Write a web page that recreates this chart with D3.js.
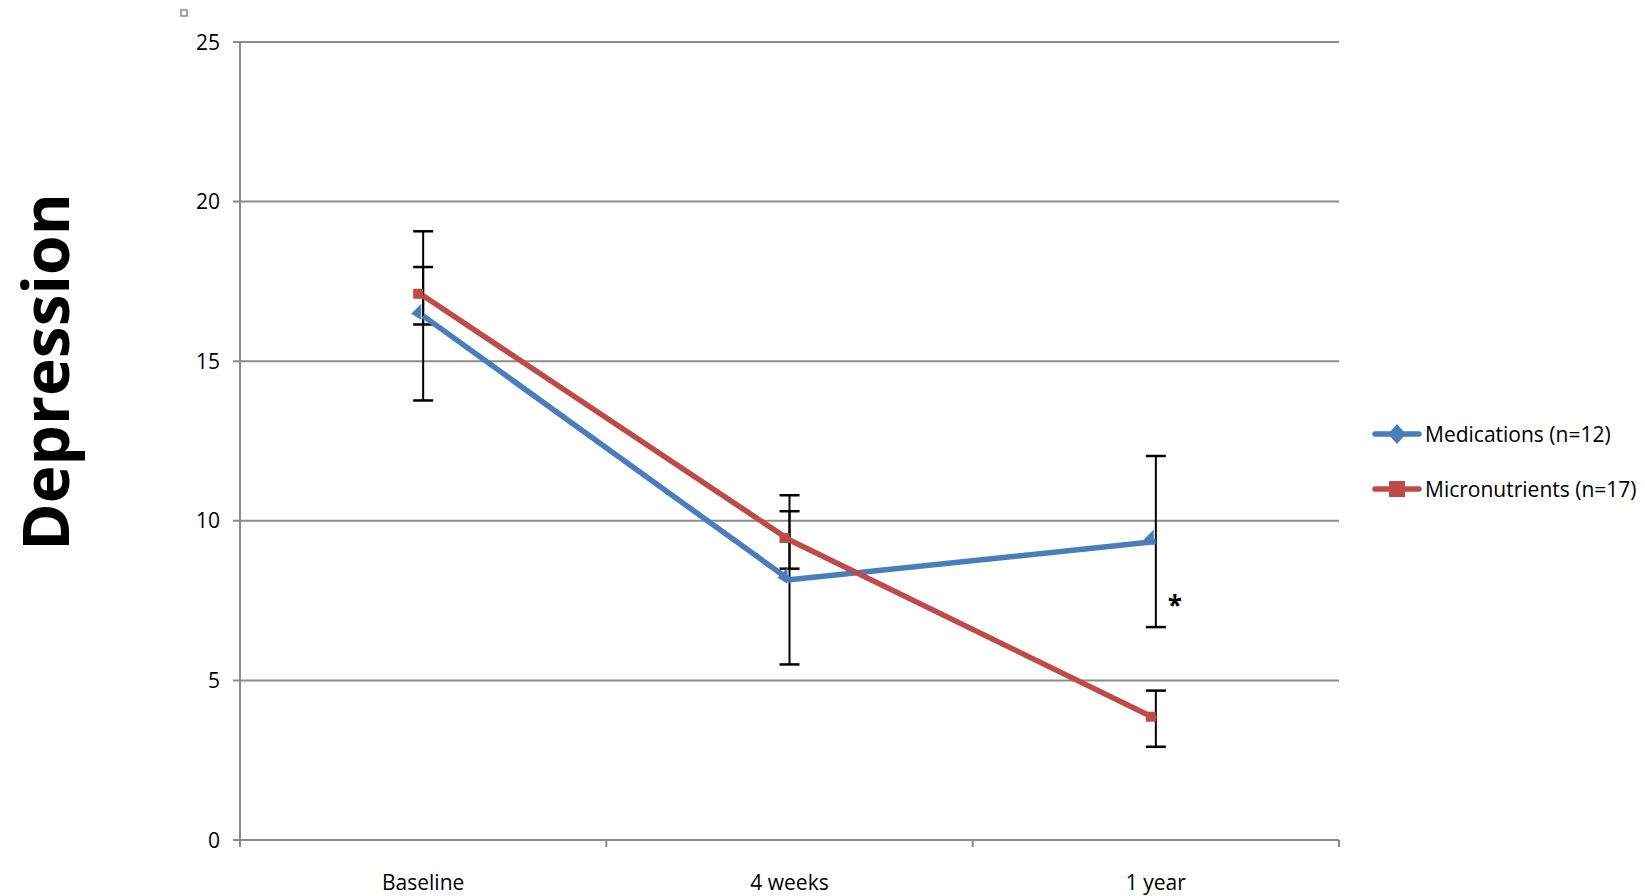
<!DOCTYPE html>
<html>
<head>
<meta charset="utf-8">
<script src="https://cdn.jsdelivr.net/npm/d3@7"></script>
<style>
  body { margin: 0; background: #fff; }
  text { font-family: "Open Sans", sans-serif; }
</style>
</head>
<body>
<svg id="chart" width="1645" height="896"></svg>
<script>
// chart values
var categories = ["Baseline", "4 weeks", "1 year"];
var seriesNames = ["Medications (n=12)", "Micronutrients (n=17)"];
var medications = [16.42, 8.15, 9.35];
var medicationsErr = [2.65, 2.65, 2.68];
var micronutrients = [17.05, 9.4, 3.8];
var micronutrientsErr = [0.9, 0.9, 0.88];
var yTicks = [0, 5, 10, 15, 20, 25];
var starNote = "*";

var colors = ["#4a7ebb", "#be4b48"];

var margin = {top: 42, left: 240, right: 306, bottom: 56};
var width = 1645 - margin.left - margin.right;
var height = 896 - margin.top - margin.bottom;

var svg = d3.select("#chart");
var g = svg.append("g").attr("transform", `translate(${margin.left},${margin.top})`);

var xScale = d3.scaleBand().domain(categories).range([0, width]).padding(0);
var yScale = d3.scaleLinear().domain([0, 25]).range([height, 0]);
var cx = d => xScale(d) + xScale.bandwidth() / 2;

// gridlines
g.selectAll(".grid").data(yTicks).enter().append("line")
  .attr("x1", -7).attr("x2", width)
  .attr("y1", d => yScale(d)).attr("y2", d => yScale(d))
  .attr("stroke", "#8c8c8c").attr("stroke-width", 2);

// y axis line
g.append("line").attr("x1", 0).attr("x2", 0).attr("y1", 0).attr("y2", height + 7)
  .attr("stroke", "#8c8c8c").attr("stroke-width", 2);

// x category ticks
var bounds = categories.map(c => xScale(c)).concat([width]);
g.selectAll(".xt").data(bounds.slice(1)).enter().append("line")
  .attr("x1", d => d).attr("x2", d => d).attr("y1", height).attr("y2", height + 7)
  .attr("stroke", "#8c8c8c").attr("stroke-width", 2);

// y tick labels
g.selectAll(".yl").data(yTicks).enter().append("text")
  .attr("x", -20).attr("y", d => yScale(d)).attr("dy", "0.36em")
  .attr("text-anchor", "end").attr("font-size", 21).attr("fill", "#000")
  .text(d => d);

// x tick labels
g.selectAll(".xl").data(categories).enter().append("text")
  .attr("x", d => cx(d)).attr("y", height + 50)
  .attr("text-anchor", "middle").attr("font-size", 21).attr("fill", "#000")
  .text(d => d);

// axis title
svg.append("text")
  .attr("transform", "translate(69,372) rotate(-90)")
  .attr("text-anchor", "middle").attr("font-size", 64).attr("font-weight", "bold")
  .text("Depression");

// tiny square in the corner
svg.append("rect").attr("x", 181).attr("y", 10).attr("width", 6).attr("height", 6)
  .attr("fill", "none").attr("stroke", "#888").attr("stroke-width", 1.5);

var series = [
  {name: seriesNames[0], values: medications, err: medicationsErr, color: colors[0], marker: "diamond"},
  {name: seriesNames[1], values: micronutrients, err: micronutrientsErr, color: colors[1], marker: "square"}
];

// error bars
series.forEach(function(s) {
  var eb = g.append("g");
  categories.forEach(function(c, i) {
    var x = cx(c), lo = yScale(s.values[i] - s.err[i]), hi = yScale(s.values[i] + s.err[i]);
    eb.append("line").attr("x1", x).attr("x2", x).attr("y1", lo).attr("y2", hi)
      .attr("stroke", "#000").attr("stroke-width", 2);
    [lo, hi].forEach(function(y) {
      eb.append("line").attr("x1", x - 10).attr("x2", x + 10).attr("y1", y).attr("y2", y)
        .attr("stroke", "#000").attr("stroke-width", 2.5);
    });
  });
});

var line = d3.line().x((d, i) => cx(categories[i])).y(d => yScale(d));

series.forEach(function(s) {
  // markers sit just left of the points
  var mk = g.append("g");
  s.values.forEach(function(v, i) {
    var x = cx(categories[i]), y = yScale(v);
    if (s.marker === "square") {
      mk.append("rect").attr("x", x - 10).attr("y", y - 7).attr("width", 10).attr("height", 10)
        .attr("fill", s.color);
    } else {
      mk.append("path").attr("d", `M${x - 12},${y - 2} L${x - 2},${y - 12} L${x - 2},${y + 4} Z`)
        .attr("fill", s.color);
    }
  });
  g.append("path").datum(s.values).attr("d", line)
    .attr("fill", "none").attr("stroke", s.color).attr("stroke-width", 5.5)
    .attr("stroke-linejoin", "round");
});

// significance star
g.append("text")
  .attr("x", cx(categories[2]) + 12).attr("y", yScale(medications[2] - medicationsErr[2] / 2) + 31)
  .attr("font-size", 26).attr("font-weight", "bold").text(starNote);

// legend
var legend = svg.append("g").attr("transform", "translate(1375,434)");
series.forEach(function(s, i) {
  var lg = legend.append("g").attr("transform", `translate(0,${i * 55})`);
  lg.append("line").attr("x1", 0).attr("x2", 44).attr("y1", 0).attr("y2", 0)
    .attr("stroke", s.color).attr("stroke-width", 5.5).attr("stroke-linecap", "round");
  if (s.marker === "square") {
    lg.append("rect").attr("x", 14).attr("y", -8).attr("width", 16).attr("height", 16).attr("fill", s.color);
  } else {
    lg.append("path").attr("d", "M22,-10 L31,0 L22,10 L13,0 Z").attr("fill", s.color);
  }
  lg.append("text").attr("x", 50).attr("y", 0).attr("dy", "0.36em")
    .attr("font-size", 21).attr("fill", "#000").text(s.name);
});
</script>
</body>
</html>
